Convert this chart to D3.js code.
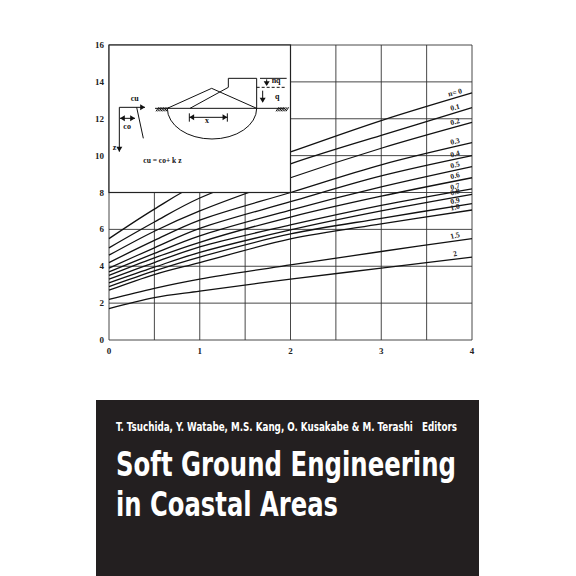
<!DOCTYPE html>
<html><head><meta charset="utf-8">
<script src="https://cdn.jsdelivr.net/npm/d3@7"></script>
<style>body{margin:0;background:#fff}svg{display:block}</style>
</head><body>
<svg width="576" height="576"></svg>
<script>
// curve values, at these x positions
const xs = [0, 0.5, 1, 2, 3, 4];
const nLabels = ['n= 0', '0.1', '0.2', '0.3', '0.4', '0.5', '0.6', '0.7', '0.8', '0.9', '1.0', '1.5', '2'];
const curves = [
    [5.5, 7.1, 8.5, 10.2, 11.9, 13.4],
    [5.0, 6.4, 7.7, 9.55, 11.1, 12.6],
    [4.6, 5.9, 7.0, 8.8, 10.4, 11.8],
    [4.2, 5.4, 6.5, 8.0, 9.5, 10.7],
    [3.9, 5.0, 6.05, 7.5, 8.9, 10.0],
    [3.7, 4.7, 5.65, 7.05, 8.3, 9.4],
    [3.5, 4.45, 5.3, 6.67, 7.8, 8.8],
    [3.3, 4.2, 5.05, 6.24, 7.3, 8.2],
    [3.1, 3.95, 4.75, 5.97, 7.0, 7.9],
    [2.9, 3.75, 4.5, 5.75, 6.6, 7.4],
    [2.7, 3.55, 4.2, 5.48, 6.3, 7.05],
    [2.2, 2.8, 3.3, 4.07, 4.8, 5.5],
    [1.7, 2.3, 2.65, 3.3, 3.9, 4.5]
];
const yTicks = [0, 2, 4, 6, 8, 10, 12, 14, 16];
const xTicks = [0, 1, 2, 3, 4];
const editors = 'T. Tsuchida, Y. Watabe, M.S. Kang, O. Kusakabe & M. Terashi\u00a0\u00a0\u00a0Editors';
const titleLines = ['Soft Ground Engineering', 'in Coastal Areas'];

const svg = d3.select('svg');
const x = d3.scaleLinear().domain([0, 4]).range([109, 472]);
const y = d3.scaleLinear().domain([0, 16]).range([340, 45]);
const serif = 'Liberation Serif, DejaVu Serif, serif';
const narrow = 'Liberation Sans Narrow, DejaVu Sans Condensed, sans-serif';

// grid
const g = svg.append('g').attr('stroke', '#333').attr('stroke-width', 0.9);
g.selectAll('.v').data(d3.range(0, 4.01, 0.5)).join('line')
    .attr('x1', d => x(d)).attr('x2', d => x(d)).attr('y1', y(0)).attr('y2', y(16));
g.selectAll('.h').data(yTicks).join('line')
    .attr('x1', x(0)).attr('x2', x(4)).attr('y1', d => y(d)).attr('y2', d => y(d));

// curves
const line = d3.line().x(d => x(d[0])).y(d => y(d[1])).curve(d3.curveCatmullRom.alpha(0.5));
svg.append('g').attr('fill', 'none').attr('stroke', '#111').attr('stroke-width', 1.3)
    .selectAll('path').data(curves).join('path')
    .attr('d', c => line(xs.map((v, i) => [v, c[i]])));

// curve labels
svg.append('g').selectAll('text').data(curves).join('text')
    .attr('transform', c => `translate(${x(3.82)},${y(c[5] - (c[5] - c[4]) * 0.18) - 3}) rotate(-14)`)
    .attr('font-family', serif).attr('font-size', 7.5).attr('font-weight', 'bold')
    .attr('fill', '#222').attr('text-anchor', 'middle')
    .text((c, i) => nLabels[i]);

// inset
svg.append('rect').attr('x', x(0)).attr('y', y(16)).attr('width', x(2) - x(0)).attr('height', y(8) - y(16))
    .attr('fill', '#fff').attr('stroke', '#222').attr('stroke-width', 1.2);
const P = (zx, zy) => [90 + zx / 3, 30 + zy / 3];
const ins = svg.append('g').attr('stroke', '#111').attr('stroke-width', 1).attr('fill', 'none');
const seg = (pts) => ins.append('path').attr('d', d3.line()(pts.map(p => P(p[0], p[1]))));
seg([[195, 235], [585, 235]]);
seg([[232, 235], [365, 175], [500, 235]]);
seg([[300, 235], [415, 172]]);
seg([[415, 172], [415, 145], [500, 145], [500, 235]]);
seg([[510, 145], [590, 145]]);
seg([[500, 172], [590, 172]]).attr('stroke-dasharray', '3,2');
ins.append('path').attr('d', () => {
    const a = P(232, 235), b = P(500, 235);
    return `M${a[0]},${a[1]} A${(b[0] - a[0]) / 2},${92 / 3} 0 0 0 ${b[0]},${b[1]}`;
});
seg([[298, 262], [412, 262]]);
seg([[298, 250], [298, 275]]); seg([[412, 250], [412, 275]]);
seg([[530, 148], [530, 165]]); seg([[518, 182], [518, 215]]);
seg([[88, 365], [88, 232], [165, 232]]);
seg([[140, 232], [160, 325]]);
seg([[90, 265], [135, 265]]);
// arrowheads
const tri = (zx, zy, dir) => {
    const [px, py] = P(zx, zy), s = 3;
    const pts = { r: [[px, py], [px - s * 1.6, py - s], [px - s * 1.6, py + s]],
        l: [[px, py], [px + s * 1.6, py - s], [px + s * 1.6, py + s]],
        d: [[px, py], [px - s, py - s * 1.6], [px + s, py - s * 1.6]] }[dir];
    svg.append('path').attr('d', d3.line()(pts) + 'Z').attr('fill', '#111');
};
tri(165, 232, 'r'); tri(88, 365, 'd'); tri(530, 168, 'd'); tri(518, 218, 'd');
tri(298, 262, 'l'); tri(412, 262, 'r'); tri(90, 265, 'l'); tri(135, 265, 'r');
// hatching
[[198, 232], [558, 232]].forEach(([sx, sy]) => {
    d3.range(0, 32, 5).forEach(k => seg([[sx + k, sy + 12], [sx + k + 8, sy]]));
});
const lab = (t, zx, zy, fs) => svg.append('text').attr('x', P(zx, zy)[0]).attr('y', P(zx, zy)[1])
    .attr('font-family', serif).attr('font-size', fs || 8).attr('font-weight', 'bold').attr('fill', '#111').text(t);
lab('cu', 122, 212); lab('co', 100, 298); lab('z', 68, 360); lab('x', 345, 280);
lab('nq', 545, 160); lab('q', 555, 208); lab('cu = co+ k z', 160, 398, 7.5);

// axis labels
svg.append('g').selectAll('text').data(yTicks).join('text')
    .attr('x', 104).attr('y', d => y(d) + 3).attr('text-anchor', 'end')
    .attr('font-family', serif).attr('font-size', 9).attr('font-weight', 'bold').attr('fill', '#222')
    .text(d => d);
svg.append('g').selectAll('text').data(xTicks).join('text')
    .attr('x', d => x(d)).attr('y', 354).attr('text-anchor', 'middle')
    .attr('font-family', serif).attr('font-size', 9).attr('font-weight', 'bold').attr('fill', '#222')
    .text(d => d);

// black title block
svg.append('rect').attr('x', 96).attr('y', 400).attr('width', 383).attr('height', 176).attr('fill', '#231f20');
svg.append('text').attr('x', 116).attr('y', 431).attr('fill', '#fff')
    .attr('font-family', narrow).attr('font-weight', 'bold').attr('font-size', 12)
    .attr('textLength', 341).attr('lengthAdjust', 'spacingAndGlyphs').text(editors);
svg.selectAll('.title').data(titleLines).join('text')
    .attr('x', 116).attr('y', (d, i) => 476 + i * 40).attr('fill', '#fff')
    .attr('font-family', narrow).attr('font-weight', 'bold').attr('font-size', 34)
    .attr('textLength', (d, i) => i === 0 ? 340 : 222).attr('lengthAdjust', 'spacingAndGlyphs')
    .text(d => d);
</script>
</body></html>
